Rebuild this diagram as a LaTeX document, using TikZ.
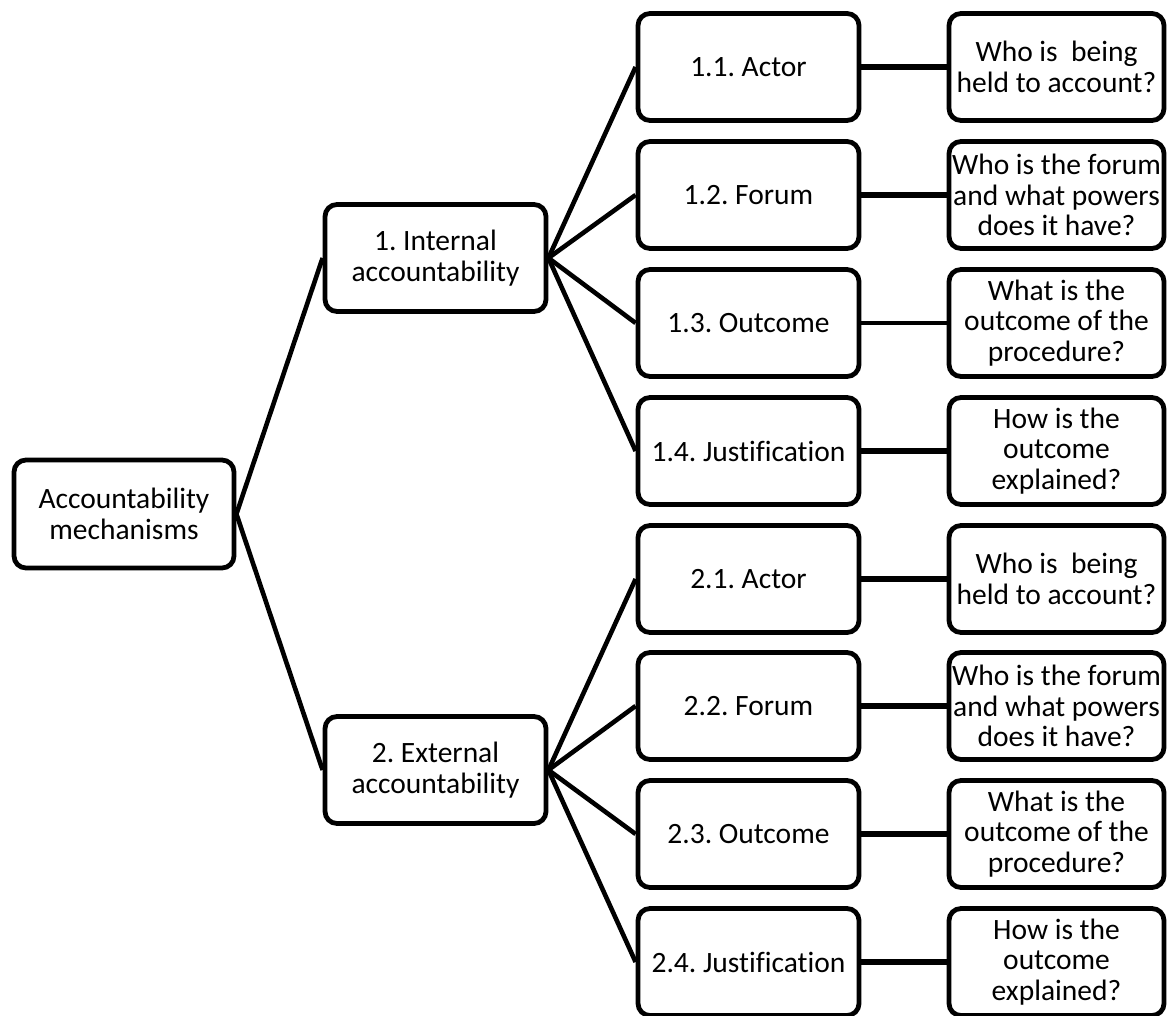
\documentclass[tikz,border=0pt]{standalone}
\usepackage{fontspec}
\setmainfont{Carlito}[Ligatures=NoCommon]
\frenchspacing
\begin{document}
\begin{tikzpicture}[x=1pt,y=-1pt,
  box/.style={draw=black, line width=4.8pt, rounded corners=12pt, fill=white,
    align=center, inner sep=0pt, text=black,
    font=\fontsize{29.5}{30.5}\selectfont},
  rootbox/.style={box, minimum width=220pt, minimum height=108pt},
  groupbox/.style={box, minimum width=221pt, minimum height=107pt},
  partbox/.style={box, minimum width=221pt, minimum height=107pt},
  askbox/.style={box, minimum width=215pt, minimum height=107pt},
  branch/.style={draw=black, line width=4.6pt},
  tie/.style={draw=black, line width=6pt},
  thintie/.style={draw=black, line width=3.5pt}]

\useasboundingbox (0,0) rectangle (1168,1016);

% root
\node[rootbox] (root) at (124,514) {Accountability\\mechanisms};

% two kinds of accountability
\node[groupbox] (int) at (435.5,258) {1. Internal\\accountability};
\node[groupbox] (ext) at (435.5,770) {2. External\\accountability};

% elements of each kind
\node[partbox] (i1) at (748.5,67)  {1.1. Actor};
\node[partbox] (i2) at (748.5,195) {1.2. Forum};
\node[partbox] (i3) at (748.5,323) {1.3. Outcome};
\node[partbox] (i4) at (748.5,451) {1.4. Justification};
\node[partbox] (e1) at (748.5,579) {2.1. Actor};
\node[partbox] (e2) at (748.5,706) {2.2. Forum};
\node[partbox] (e3) at (748.5,834) {2.3. Outcome};
\node[partbox] (e4) at (748.5,962) {2.4. Justification};

% guiding questions
\node[askbox] (qi1) at (1056.5,67)  {Who is~ being\\held to account?};
\node[askbox] (qi2) at (1056.5,195) {Who is the forum\\and what powers\\does it have?};
\node[askbox] (qi3) at (1056.5,323) {What is the\\outcome of the\\procedure?};
\node[askbox] (qi4) at (1056.5,451) {How is the\\outcome\\explained?};
\node[askbox] (qe1) at (1056.5,579) {Who is~ being\\held to account?};
\node[askbox] (qe2) at (1056.5,706) {Who is the forum\\and what powers\\does it have?};
\node[askbox] (qe3) at (1056.5,834) {What is the\\outcome of the\\procedure?};
\node[askbox] (qe4) at (1056.5,962) {How is the\\outcome\\explained?};

% tree branches
\draw[branch] (root.east) -- (int.west);
\draw[branch] (root.east) -- (ext.west);
\foreach \c in {i1,i2,i3,i4} \draw[branch] (int.east) -- (\c.west);
\foreach \c in {e1,e2,e3,e4} \draw[branch] (ext.east) -- (\c.west);

% element to question links
\draw[tie] (i1.east) -- (qi1.west);
\draw[tie] (i2.east) -- (qi2.west);
\draw[thintie] (i3.east) -- (qi3.west);
\draw[tie] (i4.east) -- (qi4.west);
\draw[tie] (e1.east) -- (qe1.west);
\draw[tie] (e2.east) -- (qe2.west);
\draw[tie] (e3.east) -- (qe3.west);
\draw[tie] (e4.east) -- (qe4.west);

\end{tikzpicture}
\end{document}
